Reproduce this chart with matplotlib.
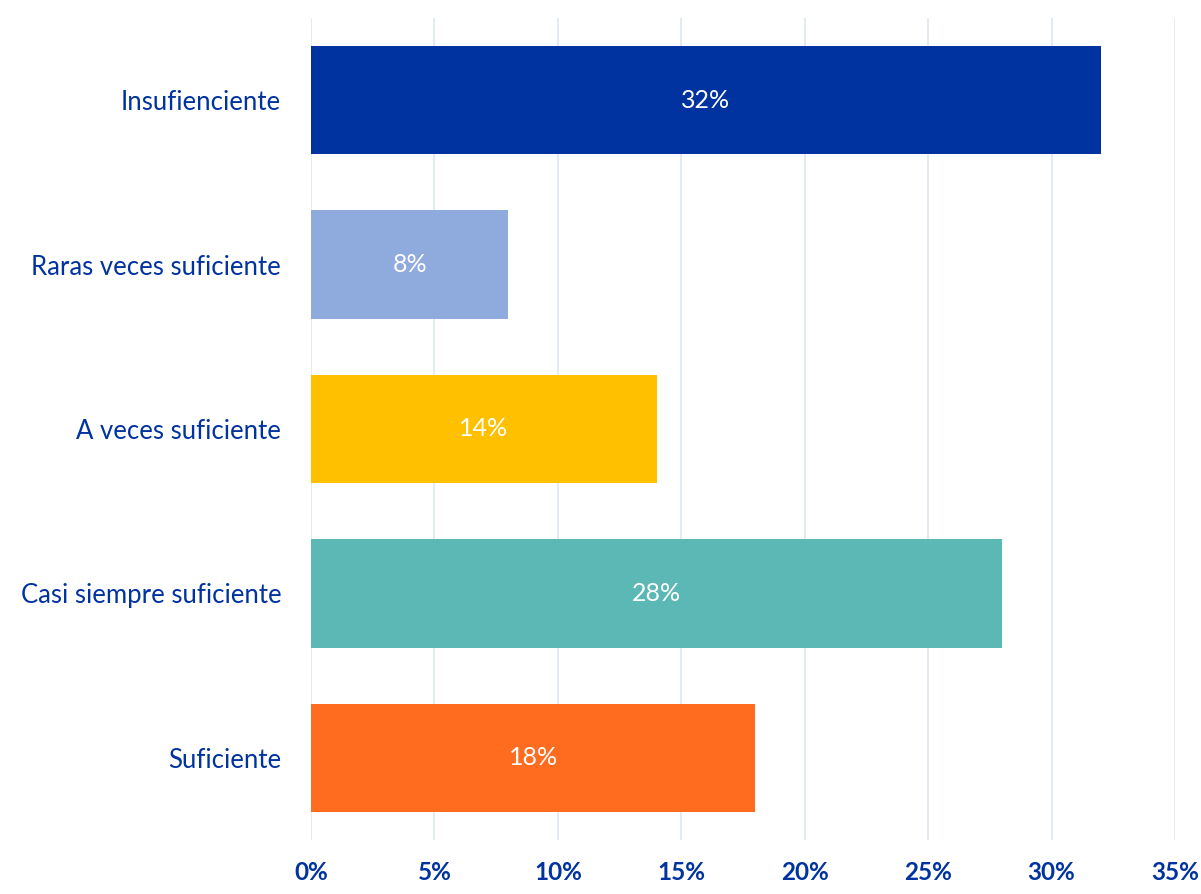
import matplotlib
matplotlib.use("Agg")
import matplotlib.pyplot as plt
from matplotlib.ticker import FuncFormatter

categories = [
    "Insufienciente",
    "Raras veces suficiente",
    "A veces suficiente",
    "Casi siempre suficiente",
    "Suficiente",
]
values = [32, 8, 14, 28, 18]
colors = ["#0033A0", "#8FAADC", "#FFC000", "#5BB8B4", "#FF6B1F"]
x_ticks = [0, 5, 10, 15, 20, 25, 30, 35]

plt.rcParams["font.family"] = ["Lato", "DejaVu Sans"]
text_color = "#0033A0"

fig = plt.figure(figsize=(12.01, 8.94), dpi=100)
ax = fig.add_axes([311 / 1201, 54 / 894, (1175 - 311) / 1201, (840 - 18) / 894])

y_pos = range(len(categories))
bars = ax.barh(y_pos, values, color=colors, height=0.66, zorder=2)

# value labels centred in each bar
for rect, v in zip(bars, values):
    ax.text(
        rect.get_width() / 2,
        rect.get_y() + rect.get_height() / 2,
        f"{v}%",
        ha="center",
        va="center",
        fontsize=18,
        color="white",
        zorder=3,
    )

ax.set_yticks(list(y_pos))
ax.set_yticklabels(categories, fontsize=18.5, color=text_color)
ax.set_ylim(len(categories) - 0.5, -0.5)

ax.set_xlim(0, 35)
ax.set_xticks(x_ticks)
ax.xaxis.set_major_formatter(FuncFormatter(lambda v, _: f"{v:.0f}%"))
for lbl in ax.get_xticklabels():
    lbl.set_fontsize(17.5)
    lbl.set_fontweight("bold")
    lbl.set_color(text_color)

ax.tick_params(axis="both", length=0)
ax.tick_params(axis="x", pad=15)
ax.tick_params(axis="y", pad=21.5)
for s in ax.spines.values():
    s.set_visible(False)
ax.xaxis.grid(True, color="#DDE8F0", linewidth=1.2, zorder=0)
ax.set_axisbelow(True)

fig.savefig("out.png", dpi=100, facecolor="white")
